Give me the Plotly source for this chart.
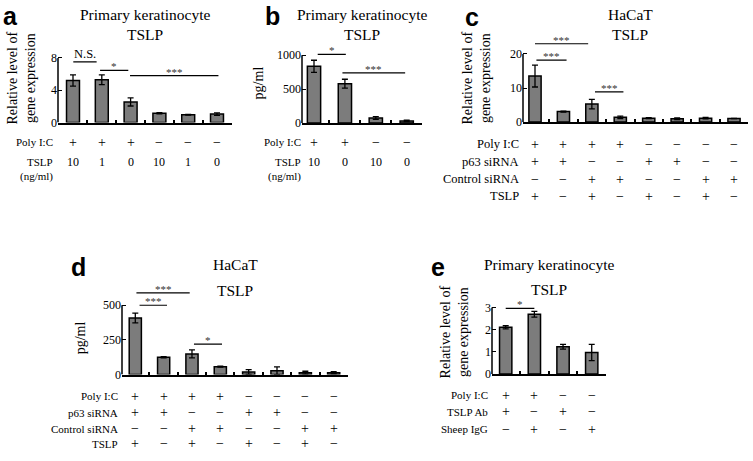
import plotly.graph_objects as go

W, H = 753, 461

# ------------------------- data -------------------------
a_values = [5.2, 5.3, 2.55, 1.15, 0.97, 1.05]
a_errors = [0.7, 0.6, 0.5, 0.08, 0.04, 0.15]
a_ticks = [0, 4, 8]
a_polyic = ["+", "+", "+", "−", "−", "−"]
a_tslp = ["10", "1", "0", "10", "1", "0"]
a_sig = [(0.01, 0.82, 7.5, "N.S."), (0.94, 1.92, 6.45, "*"), (1.98, 5.05, 5.8, "***")]

b_values = [836, 580, 72, 29]
b_errors = [90, 65, 20, 10]
b_ticks = [0, 500, 1000]
b_polyic = ["+", "+", "−", "−"]
b_tslp = ["10", "0", "10", "0"]
b_sig = [(0.12, 1.03, 1014, "*"), (0.92, 2.95, 739, "***")]

c_values = [13.5, 3.1, 5.3, 1.4, 1.15, 1.0, 1.15, 1.05]
c_errors = [3.2, 0.15, 1.4, 0.35, 0.15, 0.25, 0.2, 0.05]
c_ticks = [0, 10, 20]
c_sig = [(0.0, 1.87, 23.0, "***"), (0.05, 1.11, 18.2, "***"), (2.11, 3.11, 8.86, "***")]

d_values = [408, 125, 149, 57, 19, 28, 14, 14]
d_errors = [35, 5, 29, 3, 17, 28, 10, 8]
d_ticks = [0, 250, 500]
d_sig = [(0.04, 1.92, 589, "***"), (0.15, 1.12, 500, "***"), (2.07, 3.06, 219, "*")]

hacat_polyic = ["+", "+", "+", "+", "−", "−", "−", "−"]
hacat_p63 = ["+", "+", "−", "−", "+", "+", "−", "−"]
hacat_ctrl = ["−", "−", "+", "+", "−", "−", "+", "+"]
hacat_tslp = ["+", "−", "+", "−", "+", "−", "+", "−"]

e_values = [2.11, 2.70, 1.23, 0.97]
e_errors = [0.07, 0.13, 0.11, 0.37]
e_ticks = [0, 1, 2, 3]
e_polyic = ["+", "+", "−", "−"]
e_tslpab = ["+", "−", "+", "−"]
e_sheep = ["−", "+", "−", "+"]
e_sig = [(0.0, 1.0, 2.97, "*")]

REL = "Relative level of<br>gene expression"

# ------------------------- layout geometry (pixels) -------------------------
panels = [
    dict(letter="a", values=a_values, errors=a_errors, ticks=a_ticks, sig=a_sig,
         L=58, R=232, C0=73, S=28.8, Y0=123, YT=57, bw=0.45,
         titles=["Primary keratinocyte", "TSLP"], title_x=145, title_y=[13, 33],
         letter_xy=(10, 14), ytitle=REL, ytitle_xy=(21, 78),
         rows=[("Poly I:C", a_polyic), ("TSLP", a_tslp), ("(ng/ml)", None)],
         rows_y=[143, 163, 178], label_right=55, label_size=11),
    dict(letter="b", values=b_values, errors=b_errors, ticks=b_ticks, sig=b_sig,
         L=302, R=422, C0=314, S=30.9, Y0=123.3, YT=54.3, bw=0.43,
         titles=["Primary keratinocyte", "TSLP"], title_x=362, title_y=[13, 33],
         letter_xy=(272, 14), ytitle="pg/ml", ytitle_xy=(258, 83),
         rows=[("Poly I:C", b_polyic), ("TSLP", b_tslp), ("(ng/ml)", None)],
         rows_y=[143, 163, 178], label_right=303, label_size=11),
    dict(letter="c", values=c_values, errors=c_errors, ticks=c_ticks, sig=c_sig,
         L=523, R=748, C0=535, S=28.43, Y0=122.5, YT=53, bw=0.43,
         titles=["HaCaT", "TSLP"], title_x=630, title_y=[13, 33],
         letter_xy=(472, 15), ytitle=REL, ytitle_xy=(476, 78),
         rows=[("Poly I:C", hacat_polyic), ("p63 siRNA", hacat_p63),
               ("Control siRNA", hacat_ctrl), ("TSLP", hacat_tslp)],
         rows_y=[145, 163, 181, 198], label_right=521, label_size=12.5),
    dict(letter="d", values=d_values, errors=d_errors, ticks=d_ticks, sig=d_sig,
         L=122, R=348, C0=135.3, S=28.34, Y0=380, YT=309.3, bw=0.43,
         titles=["HaCaT", "TSLP"], title_x=235, title_y=[268, 294],
         letter_xy=(78, 270), ytitle="pg/ml", ytitle_xy=(80, 343),
         rows=[("Poly I:C", hacat_polyic), ("p63 siRNA", hacat_p63),
               ("Control siRNA", hacat_ctrl), ("TSLP", hacat_tslp)],
         rows_y=[402, 419, 435.5, 450.5], label_right=120, label_size=11),
    dict(letter="e", values=e_values, errors=e_errors, ticks=e_ticks, sig=e_sig,
         L=492, R=606, C0=505.7, S=28.67, Y0=379.3, YT=311.7, bw=0.43,
         titles=["Primary keratinocyte", "TSLP"], title_x=549, title_y=[268, 293],
         letter_xy=(438, 270), ytitle=REL, ytitle_xy=(454, 337),
         rows=[("Poly I:C", e_polyic), ("TSLP Ab", e_tslpab), ("Sheep IgG", e_sheep)],
         rows_y=[401, 418, 436], label_right=490, label_size=11),
]

SERIF = "Liberation Serif, Times New Roman, serif"
SANS = "Liberation Sans, Arial, sans-serif"

fig = go.Figure()
annotations = []
shapes = []
layout_axes = {}


def px_x(px):
    return px / W


def px_y(py):
    return 1 - py / H


for k, p in enumerate(panels, start=1):
    xs = "" if k == 1 else str(k)
    xname, yname = "x" + xs, "y" + xs
    n = len(p["values"])
    top_tick = p["ticks"][-1]
    scale = (p["Y0"] - p["YT"]) / top_tick  # px per unit
    sig_top = max(s[2] for s in p["sig"])
    rtop = max(top_tick, sig_top) * 1.08
    xr = [-(p["C0"] - p["L"]) / p["S"], (p["R"] - p["C0"]) / p["S"]]
    dom_y = [px_y(p["Y0"]), px_y(p["Y0"] - rtop * scale)]

    fig.add_trace(go.Bar(
        x=list(range(n)), y=p["values"], width=p["bw"],
        marker=dict(color="#7c7c7c", line=dict(color="black", width=1.5)),
        error_y=dict(type="data", array=p["errors"], color="black", thickness=1.3, width=3),
        xaxis=xname, yaxis=yname, showlegend=False, hoverinfo="skip",
    ))

    layout_axes["xaxis" + xs] = dict(
        domain=[px_x(p["L"]), px_x(p["R"])], range=xr, anchor=yname,
        showline=True, linecolor="black", linewidth=2, ticks="inside",
        tickvals=[i + 0.5 for i in range(n)], ticklen=3, tickwidth=1.5, tickcolor="black",
        showticklabels=False, showgrid=False, zeroline=False, fixedrange=True,
    )
    layout_axes["yaxis" + xs] = dict(
        domain=dom_y, range=[0, rtop], anchor=xname,
        showline=False, ticks="inside", tickvals=p["ticks"], ticklen=4, tickwidth=1.3,
        tickcolor="black", showgrid=False, zeroline=False,
        tickfont=dict(family=SERIF, size=12, color="black"), fixedrange=True,
    )
    # y axis line up to the top tick
    shapes.append(dict(type="line", xref=xname + " domain", yref=yname,
                       x0=0, x1=0, y0=0, y1=top_tick, line=dict(color="black", width=1.5)))

    # significance brackets
    for (x0, x1, yv, lab) in p["sig"]:
        shapes.append(dict(type="line", xref=xname, yref=yname, x0=x0, x1=x1, y0=yv, y1=yv,
                           line=dict(color="black", width=1.2)))
        if lab == "N.S.":
            annotations.append(dict(x=(x0 + x1) / 2, y=yv, xref=xname, yref=yname, text=lab,
                                    showarrow=False, yanchor="bottom", yshift=-1,
                                    font=dict(family=SERIF, size=12.5, color="black")))
        else:
            annotations.append(dict(x=(x0 + x1) / 2, y=yv, xref=xname, yref=yname, text=lab,
                                    showarrow=False, yanchor="bottom", yshift=-4,
                                    font=dict(family=SERIF, size=11, color="#333333")))

    # titles
    for t, ty in zip(p["titles"], p["title_y"]):
        annotations.append(dict(x=px_x(p["title_x"]), y=px_y(ty), xref="paper", yref="paper",
                                text=t, showarrow=False, xanchor="center", yanchor="middle",
                                font=dict(family=SERIF, size=15.5, color="black")))
    # panel letter
    annotations.append(dict(x=px_x(p["letter_xy"][0]), y=px_y(p["letter_xy"][1]), xref="paper",
                            yref="paper", text="<b>%s</b>" % p["letter"], showarrow=False,
                            xanchor="center", yanchor="middle",
                            font=dict(family=SANS, size=25, color="black")))
    # y-axis title
    annotations.append(dict(x=px_x(p["ytitle_xy"][0]), y=px_y(p["ytitle_xy"][1]), xref="paper",
                            yref="paper", text=p["ytitle"], showarrow=False, textangle=-90,
                            xanchor="center", yanchor="middle",
                            font=dict(family=SERIF, size=14, color="black")))
    # condition rows
    for (lab, syms), ry in zip(p["rows"], p["rows_y"]):
        annotations.append(dict(x=px_x(p["label_right"]), y=px_y(ry), xref="paper", yref="paper",
                                text=lab, showarrow=False, xanchor="right", yanchor="middle",
                                font=dict(family=SERIF, size=p["label_size"], color="black")))
        if syms:
            for i, s in enumerate(syms):
                sz = 14 if s in ("+", "−") else 12
                annotations.append(dict(x=i, y=px_y(ry), xref=xname, yref="paper", text=s,
                                        showarrow=False, xanchor="center", yanchor="middle",
                                        font=dict(family=SERIF, size=sz, color="black")))

fig.update_layout(
    width=W, height=H, margin=dict(l=0, r=0, t=0, b=0),
    paper_bgcolor="white", plot_bgcolor="white",
    annotations=annotations, shapes=shapes, bargap=0.5,
    font=dict(family=SERIF, color="black"),
    **layout_axes,
)

fig.write_html("out.html", config={"displayModeBar": False},
               post_script="document.body.style.margin='0';")
